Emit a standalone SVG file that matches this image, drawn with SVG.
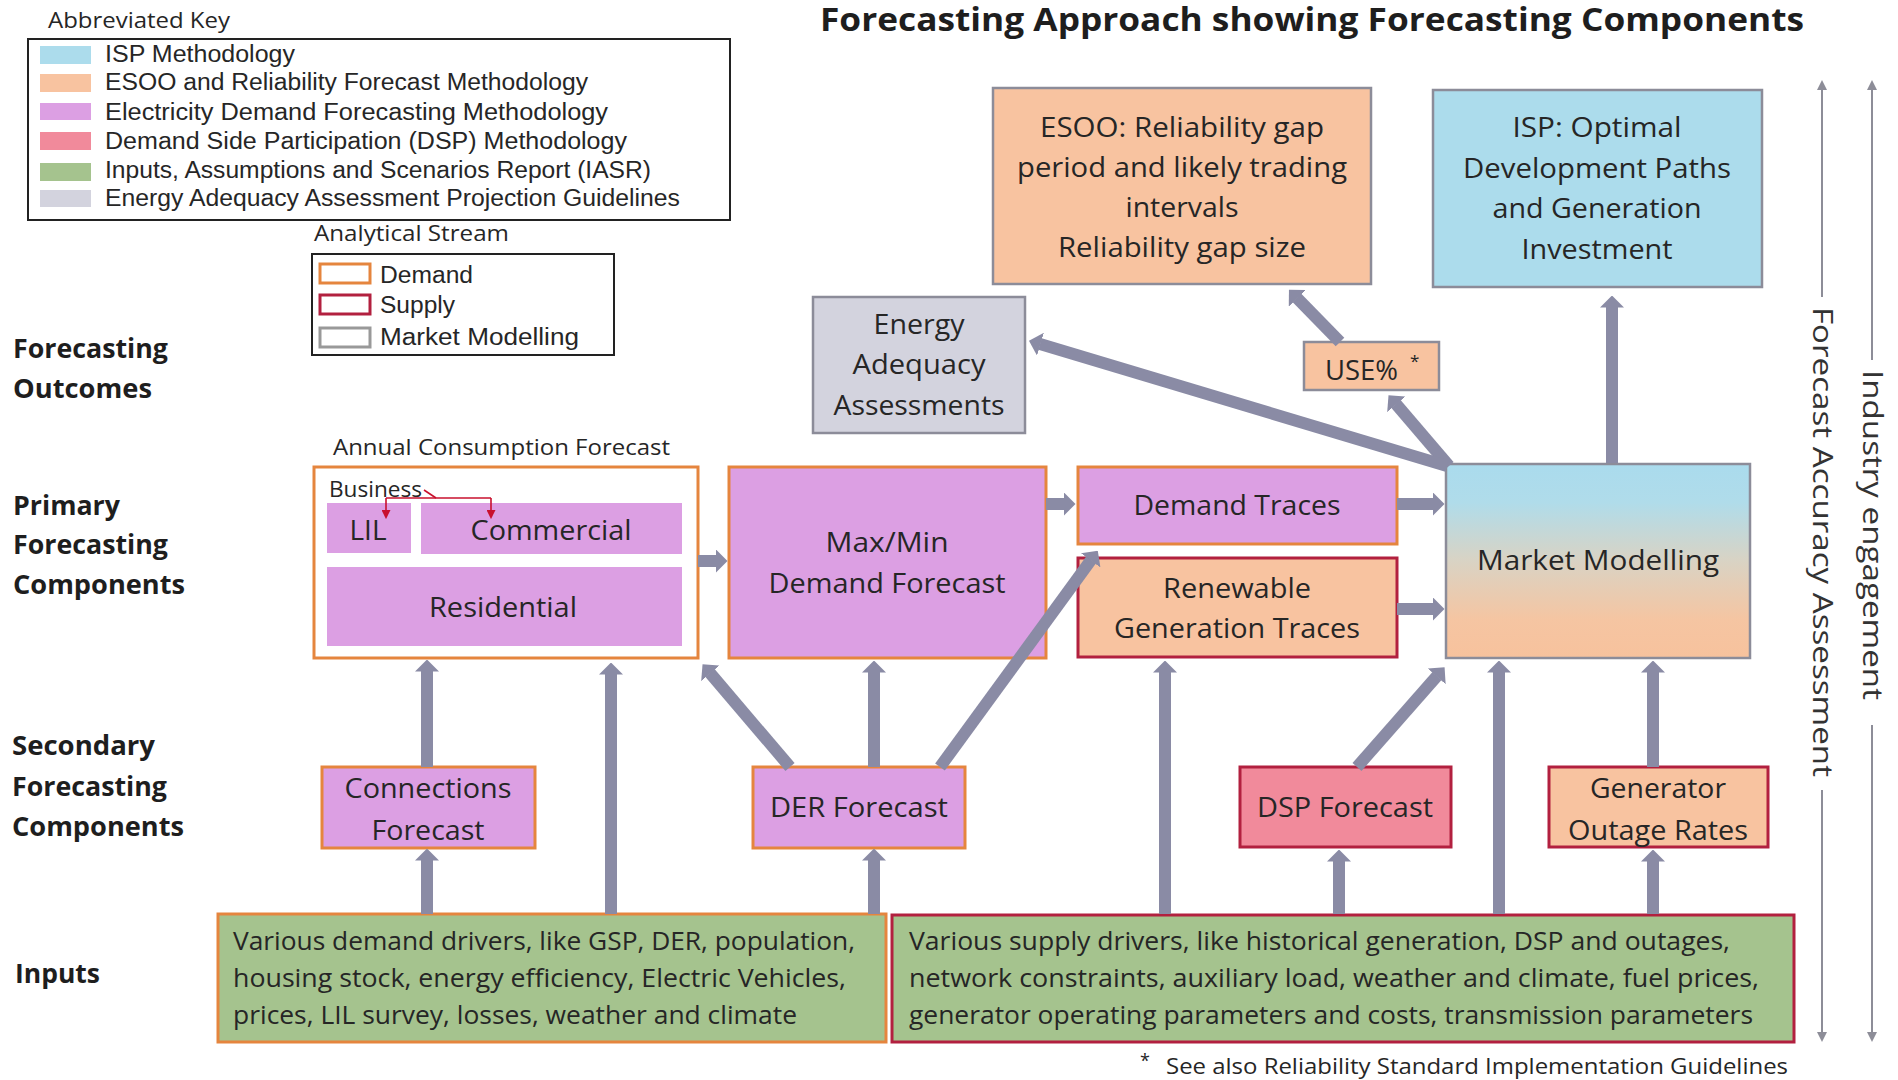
<svg xmlns="http://www.w3.org/2000/svg" width="1898" height="1080" viewBox="0 0 1898 1080">
<defs>
<style>
text{font-family:"Open Sans","Liberation Sans",sans-serif;fill:#262626}
.t{font-size:28px;text-anchor:middle}
.k{font-size:23px;font-family:"Liberation Sans",Arial,sans-serif}
.s{font-size:22px}
.lbl{font-size:26px;font-weight:bold;fill:#1e1e1e}
.in{font-size:25px}
.title{font-size:32px;font-weight:bold;fill:#1e1e1e}
.side{font-size:28px;text-anchor:middle;fill:#333}
.sd{stroke:#e5853e;stroke-width:3}
.ss{stroke:#b2203f;stroke-width:3}
.sm{stroke:#8c8c99;stroke-width:2.5}
.vi{fill:#dc9fe3}
.pe{fill:#f8c3a0}
.bl{fill:#acdcec}
.gr{fill:#d3d3de}
.pk{fill:#f18a9b}
.gn{fill:#a5c38e}
#connectors line{stroke:#8a8ba5;stroke-width:12;marker-end:url(#ah)}
#sidebars line{stroke:#8d8d98;stroke-width:2}
#business-arrows path{stroke:#c8102e;stroke-width:1.6;fill:none}
</style>
<marker id="ah" markerUnits="userSpaceOnUse" markerWidth="12" markerHeight="24" viewBox="0 0 12 24" refX="0.5" refY="12" orient="auto"><path d="M0,0 L12,12 L0,24 Z" fill="#8a8ba5"/></marker>
<marker id="sa" markerUnits="userSpaceOnUse" markerWidth="10" markerHeight="10" viewBox="0 0 10 10" refX="1" refY="5" orient="auto-start-reverse"><path d="M0,0 L10,5 L0,10 Z" fill="#8d8d98"/></marker>
<marker id="ra" markerUnits="userSpaceOnUse" markerWidth="9" markerHeight="9" viewBox="0 0 10 10" refX="1" refY="5" orient="auto"><path d="M0,0 L10,5 L0,10 Z" fill="#c8102e"/></marker>
<linearGradient id="mmg" x1="0" y1="0" x2="0" y2="1">
<stop offset="0" stop-color="#aadbed"/>
<stop offset="0.2" stop-color="#b0dcea"/>
<stop offset="0.5" stop-color="#d9d3c4"/>
<stop offset="0.8" stop-color="#f5c5a2"/>
<stop offset="1" stop-color="#f7c29d"/>
</linearGradient>
</defs>
<rect width="1898" height="1080" fill="#ffffff"/>

<text class="title" x="820" y="31" textLength="984" lengthAdjust="spacingAndGlyphs">Forecasting Approach showing Forecasting Components</text>

<g id="key">
<text class="s" x="48" y="28" textLength="182" lengthAdjust="spacingAndGlyphs">Abbreviated Key</text>
<rect x="28" y="39" width="702" height="181" fill="none" stroke="#222" stroke-width="2"/>
<rect class="bl" x="40" y="46" width="51" height="18"/>
<rect class="pe" x="40" y="74" width="51" height="18"/>
<rect class="vi" x="40" y="103" width="51" height="17"/>
<rect class="pk" x="40" y="132" width="51" height="18"/>
<rect class="gn" x="40" y="163" width="51" height="18"/>
<rect class="gr" x="40" y="190" width="51" height="17"/>
<text class="k" x="105" y="62" textLength="190" lengthAdjust="spacingAndGlyphs">ISP Methodology</text>
<text class="k" x="105" y="90" textLength="483" lengthAdjust="spacingAndGlyphs">ESOO and Reliability Forecast Methodology</text>
<text class="k" x="105" y="120" textLength="503" lengthAdjust="spacingAndGlyphs">Electricity Demand Forecasting Methodology</text>
<text class="k" x="105" y="149" textLength="522" lengthAdjust="spacingAndGlyphs">Demand Side Participation (DSP) Methodology</text>
<text class="k" x="105" y="178" textLength="546" lengthAdjust="spacingAndGlyphs">Inputs, Assumptions and Scenarios Report (IASR)</text>
<text class="k" x="105" y="206" textLength="575" lengthAdjust="spacingAndGlyphs">Energy Adequacy Assessment Projection Guidelines</text>
</g>

<g id="stream-key">
<text class="s" x="314" y="241" textLength="195" lengthAdjust="spacingAndGlyphs">Analytical Stream</text>
<rect x="312" y="254" width="302" height="101" fill="none" stroke="#222" stroke-width="2"/>
<rect x="320" y="264" width="50" height="19" fill="none" class="sd"/>
<rect x="320" y="295" width="50" height="19" fill="none" class="ss"/>
<rect x="320" y="328" width="50" height="19" fill="none" stroke="#999" stroke-width="3"/>
<text class="k" x="380" y="283" textLength="93" lengthAdjust="spacingAndGlyphs">Demand</text>
<text class="k" x="380" y="313" textLength="75" lengthAdjust="spacingAndGlyphs">Supply</text>
<text class="k" x="380" y="345" textLength="199" lengthAdjust="spacingAndGlyphs">Market Modelling</text>
</g>

<g id="row-labels">
<text class="lbl" x="13" y="358" textLength="155" lengthAdjust="spacingAndGlyphs">Forecasting</text>
<text class="lbl" x="13" y="398" textLength="139" lengthAdjust="spacingAndGlyphs">Outcomes</text>
<text class="lbl" x="13" y="515" textLength="107" lengthAdjust="spacingAndGlyphs">Primary</text>
<text class="lbl" x="13" y="554" textLength="155" lengthAdjust="spacingAndGlyphs">Forecasting</text>
<text class="lbl" x="13" y="594" textLength="172" lengthAdjust="spacingAndGlyphs">Components</text>
<text class="lbl" x="12" y="755" textLength="143" lengthAdjust="spacingAndGlyphs">Secondary</text>
<text class="lbl" x="12" y="796" textLength="155" lengthAdjust="spacingAndGlyphs">Forecasting</text>
<text class="lbl" x="12" y="836" textLength="172" lengthAdjust="spacingAndGlyphs">Components</text>
<text class="lbl" x="15" y="983" textLength="85" lengthAdjust="spacingAndGlyphs">Inputs</text>
</g>

<g id="esoo">
<rect class="pe sm" x="993" y="88" width="378" height="196"/>
<text class="t" x="1182" y="137" textLength="284" lengthAdjust="spacingAndGlyphs">ESOO: Reliability gap</text>
<text class="t" x="1182" y="177" textLength="330" lengthAdjust="spacingAndGlyphs">period and likely trading</text>
<text class="t" x="1182" y="217" textLength="113" lengthAdjust="spacingAndGlyphs">intervals</text>
<text class="t" x="1182" y="257" textLength="248" lengthAdjust="spacingAndGlyphs">Reliability gap size</text>
</g>

<g id="isp">
<rect class="bl sm" x="1433" y="90" width="329" height="197"/>
<text class="t" x="1597" y="137" textLength="169" lengthAdjust="spacingAndGlyphs">ISP: Optimal</text>
<text class="t" x="1597" y="178" textLength="268" lengthAdjust="spacingAndGlyphs">Development Paths</text>
<text class="t" x="1597" y="218" textLength="209" lengthAdjust="spacingAndGlyphs">and Generation</text>
<text class="t" x="1597" y="259" textLength="151" lengthAdjust="spacingAndGlyphs">Investment</text>
</g>

<g id="energy-adequacy">
<rect class="gr sm" x="813" y="297" width="212" height="136"/>
<text class="t" x="919" y="334" textLength="91" lengthAdjust="spacingAndGlyphs">Energy</text>
<text class="t" x="919" y="374" textLength="133" lengthAdjust="spacingAndGlyphs">Adequacy</text>
<text class="t" x="919" y="415" textLength="171" lengthAdjust="spacingAndGlyphs">Assessments</text>
</g>

<g id="use">
<rect class="pe sm" x="1304" y="342" width="135" height="48"/>
<text style="font-size:28px" x="1325" y="380" textLength="73" lengthAdjust="spacingAndGlyphs">USE%</text>
<text style="font-size:17px" x="1410" y="367">*</text>
</g>

<g id="annual-consumption">
<text class="s" x="333" y="455" textLength="337" lengthAdjust="spacingAndGlyphs">Annual Consumption Forecast</text>
<rect x="314" y="467" width="384" height="191" fill="#ffffff" class="sd"/>
<text class="s" x="329" y="497" textLength="93" lengthAdjust="spacingAndGlyphs">Business</text>
<rect class="vi" x="327" y="503" width="84" height="50"/>
<rect class="vi" x="421" y="503" width="261" height="51"/>
<rect class="vi" x="327" y="567" width="355" height="79"/>
<text class="t" x="368" y="540" textLength="37" lengthAdjust="spacingAndGlyphs">LIL</text>
<text class="t" x="551" y="540" textLength="161" lengthAdjust="spacingAndGlyphs">Commercial</text>
<text class="t" x="503" y="617" textLength="148" lengthAdjust="spacingAndGlyphs">Residential</text>
<g id="business-arrows">
<path d="M424,490 L436,498"/>
<path d="M386,498 L491,498"/>
<path d="M386,498 L386,511" marker-end="url(#ra)"/>
<path d="M491,498 L491,511" marker-end="url(#ra)"/>
</g>
</g>

<g id="maxmin">
<rect class="vi sd" x="729" y="467" width="317" height="191"/>
<text class="t" x="887" y="552" textLength="123" lengthAdjust="spacingAndGlyphs">Max/Min</text>
<text class="t" x="887" y="593" textLength="237" lengthAdjust="spacingAndGlyphs">Demand Forecast</text>
</g>

<g id="demand-traces">
<rect class="vi sd" x="1078" y="467" width="319" height="77"/>
<text class="t" x="1237" y="515" textLength="207" lengthAdjust="spacingAndGlyphs">Demand Traces</text>
</g>

<g id="renewable-traces">
<rect class="pe ss" x="1078" y="558" width="319" height="99"/>
<text class="t" x="1237" y="598" textLength="148" lengthAdjust="spacingAndGlyphs">Renewable</text>
<text class="t" x="1237" y="638" textLength="246" lengthAdjust="spacingAndGlyphs">Generation Traces</text>
</g>

<g id="market-modelling">
<rect fill="url(#mmg)" class="sm" x="1446" y="464" width="304" height="194"/>
<text class="t" x="1598" y="570" textLength="242" lengthAdjust="spacingAndGlyphs">Market Modelling</text>
</g>

<g id="connections">
<rect class="vi sd" x="322" y="767" width="213" height="81"/>
<text class="t" x="428" y="798" textLength="167" lengthAdjust="spacingAndGlyphs">Connections</text>
<text class="t" x="428" y="840" textLength="113" lengthAdjust="spacingAndGlyphs">Forecast</text>
</g>

<g id="der">
<rect class="vi sd" x="753" y="767" width="212" height="81"/>
<text class="t" x="859" y="817" textLength="178" lengthAdjust="spacingAndGlyphs">DER Forecast</text>
</g>

<g id="dsp">
<rect class="pk ss" x="1240" y="767" width="211" height="80"/>
<text class="t" x="1345" y="817" textLength="176" lengthAdjust="spacingAndGlyphs">DSP Forecast</text>
</g>

<g id="generator-outage">
<rect class="pe ss" x="1549" y="767" width="219" height="80"/>
<text class="t" x="1658" y="798" textLength="136" lengthAdjust="spacingAndGlyphs">Generator</text>
<text class="t" x="1658" y="840" textLength="180" lengthAdjust="spacingAndGlyphs">Outage Rates</text>
</g>

<g id="demand-inputs">
<rect class="gn sd" x="218" y="914" width="668" height="128"/>
<text class="in" x="233" y="950" textLength="622" lengthAdjust="spacingAndGlyphs">Various demand drivers, like GSP, DER, population,</text>
<text class="in" x="233" y="987" textLength="613" lengthAdjust="spacingAndGlyphs">housing stock, energy efficiency, Electric Vehicles,</text>
<text class="in" x="233" y="1024" textLength="564" lengthAdjust="spacingAndGlyphs">prices, LIL survey, losses, weather and climate</text>
</g>

<g id="supply-inputs">
<rect class="gn ss" x="892" y="915" width="902" height="127"/>
<text class="in" x="909" y="950" textLength="821" lengthAdjust="spacingAndGlyphs">Various supply drivers, like historical generation, DSP and outages,</text>
<text class="in" x="909" y="987" textLength="850" lengthAdjust="spacingAndGlyphs">network constraints, auxiliary load, weather and climate, fuel prices,</text>
<text class="in" x="909" y="1024" textLength="844" lengthAdjust="spacingAndGlyphs">generator operating parameters and costs, transmission parameters</text>
</g>

<g id="connectors">
<line x1="427" y1="767" x2="427" y2="671"/>
<line x1="427" y1="914" x2="427" y2="860"/>
<line x1="611" y1="914" x2="611" y2="674"/>
<line x1="790" y1="767" x2="710" y2="673"/>
<line x1="874" y1="767" x2="874" y2="672"/>
<line x1="874" y1="914" x2="874" y2="860"/>
<line x1="940" y1="767" x2="1091" y2="560"/>
<line x1="698" y1="561" x2="716" y2="561"/>
<line x1="1046" y1="504" x2="1064" y2="504"/>
<line x1="1397" y1="504" x2="1433" y2="504"/>
<line x1="1397" y1="609" x2="1433" y2="609"/>
<line x1="1165" y1="914" x2="1165" y2="672"/>
<line x1="1357" y1="767" x2="1437" y2="676"/>
<line x1="1339" y1="914" x2="1339" y2="861"/>
<line x1="1499" y1="914" x2="1499" y2="672"/>
<line x1="1653" y1="767" x2="1653" y2="672"/>
<line x1="1653" y1="914" x2="1653" y2="861"/>
<line x1="1612" y1="463" x2="1612" y2="307"/>
<line x1="1449" y1="466" x2="1396" y2="404"/>
<line x1="1340" y1="342" x2="1297" y2="298"/>
<line x1="1447" y1="466" x2="1040" y2="344"/>
</g>

<g id="sidebars">
<line x1="1822" y1="89" x2="1822" y2="297" marker-start="url(#sa)"/>
<line x1="1822" y1="790" x2="1822" y2="1033" marker-end="url(#sa)"/>
<line x1="1872" y1="89" x2="1872" y2="360" marker-start="url(#sa)"/>
<line x1="1872" y1="725" x2="1872" y2="1033" marker-end="url(#sa)"/>
<text class="side" transform="translate(1813,542) rotate(90)" textLength="470" lengthAdjust="spacingAndGlyphs">Forecast Accuracy Assessment</text>
<text class="side" transform="translate(1863,535) rotate(90)" textLength="330" lengthAdjust="spacingAndGlyphs">Industry engagement</text>
</g>

<g id="footnote">
<text style="font-size:18px" x="1140" y="1067">*</text>
<text class="s" x="1166" y="1074" textLength="622" lengthAdjust="spacingAndGlyphs">See also Reliability Standard Implementation Guidelines</text>
</g>
</svg>
